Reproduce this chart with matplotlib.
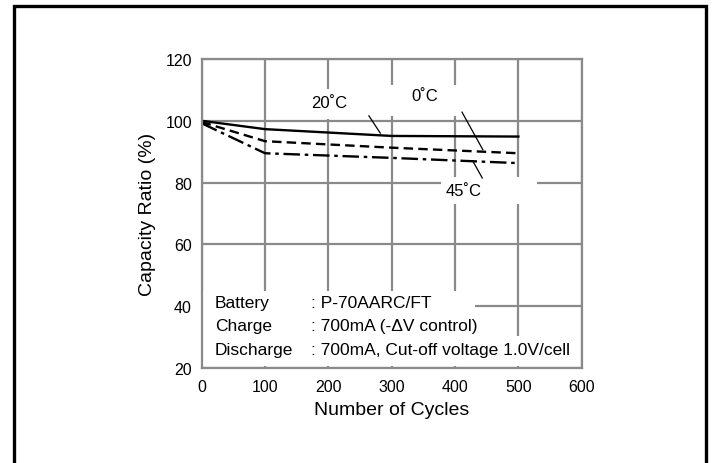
import matplotlib
matplotlib.use("Agg")
import matplotlib.pyplot as plt
from matplotlib.patches import Rectangle

plt.rcParams['font.family'] = ['Liberation Sans', 'DejaVu Sans']

cycles = [0, 100, 300, 500]
cap_20c = [100.0, 97.3, 95.1, 94.9]
cap_0c = [99.6, 93.4, 91.3, 89.5]
cap_45c = [99.2, 89.5, 88.0, 86.3]

xticks = [0, 100, 200, 300, 400, 500, 600]
yticks = [20, 40, 60, 80, 100, 120]

info_keys = ["Battery", "Charge", "Discharge"]
info_vals = [": P-70AARC/FT", ": 700mA (-\u0394V control)", ": 700mA, Cut-off voltage 1.0V/cell"]

grey = "#8a8a8a"

fig = plt.figure(figsize=(7.12, 4.64), dpi=100)
ax = fig.add_axes([0.2833, 0.2047, 0.5337, 0.666])

# outer frame (open at bottom)
fig.add_artist(Rectangle((0.0197, -0.05), 0.9719, 1.035, transform=fig.transFigure,
                         fill=False, edgecolor="black", linewidth=2.4))

ax.set_xlim(0, 600)
ax.set_ylim(20, 120)
ax.set_xticks(xticks)
ax.set_yticks(yticks)
ax.tick_params(length=0, labelsize=11.5)
ax.tick_params(axis='x', pad=8)
ax.tick_params(axis='y', pad=7)
ax.set_axisbelow(True)
ax.grid(True, color=grey, linewidth=1.6)
for s in ax.spines.values():
    s.set_color(grey)
    s.set_linewidth(1.6)

ax.set_xlabel("Number of Cycles", fontsize=14, labelpad=5)
ax.set_ylabel("Capacity Ratio (%)", fontsize=14, labelpad=7)

# white gaps behind labels
gaps = [(163, 100.7, 127, 9.5), (290, 101.6, 122, 10.0), (378, 73.1, 152, 8.8),
        (2, 20.5, 430, 24.5), (432, 20.5, 160, 9.8)]
for gx, gy, gw, gh in gaps:
    ax.add_patch(Rectangle((gx, gy), gw, gh, facecolor="white", edgecolor="none", zorder=1))

ax.plot(cycles, cap_20c, color="black", linewidth=1.7, zorder=2)
ax.plot(cycles, cap_0c, color="black", linewidth=1.7, dashes=(4, 2.2), zorder=2)
ax.plot(cycles, cap_45c, color="black", linewidth=1.7, dashes=(7, 2, 1.5, 2), zorder=2)

ax.text(201, 105.8, "20\u02daC", fontsize=12, ha="center", va="center")
ax.text(352, 108.3, "0\u02daC", fontsize=12, ha="center", va="center")
ax.text(413, 77.3, "45\u02daC", fontsize=12, ha="center", va="center")

ax.plot([264, 282], [101.6, 96.0], color="black", linewidth=0.9)
ax.plot([411, 444], [102.8, 90.6], color="black", linewidth=0.9)
ax.plot([428, 443], [87.0, 81.5], color="black", linewidth=0.9)

for i, (k, v) in enumerate(zip(info_keys, info_vals)):
    y = 41.3 - i * 7.7
    ax.text(21, y, k, fontsize=12.5, va="center")
    ax.text(172, y, v, fontsize=12.5, va="center")

fig.savefig("out.png", dpi=100)
